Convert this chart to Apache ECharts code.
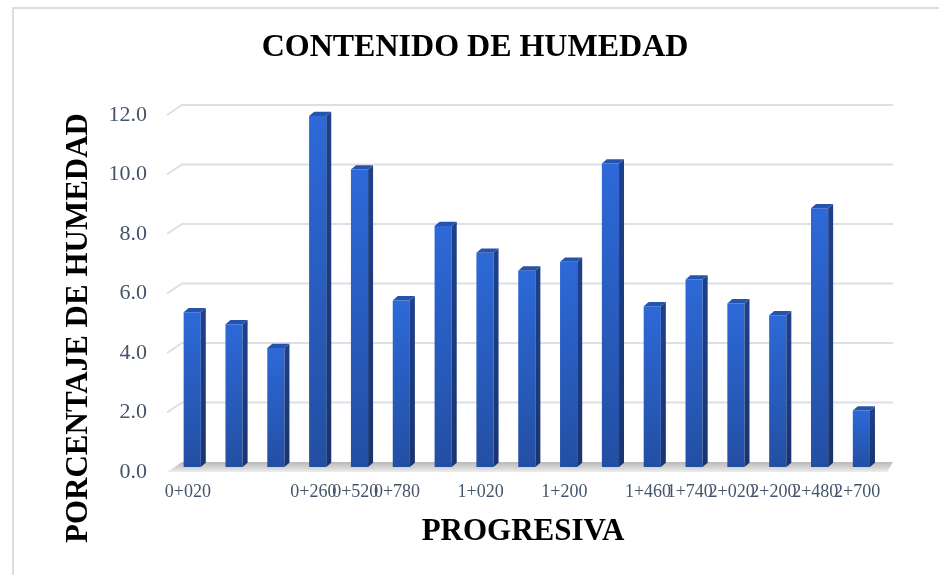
<!DOCTYPE html>
<html><head><meta charset="utf-8">
<script src="https://cdn.jsdelivr.net/npm/echarts@6/dist/echarts.min.js"></script>
<style>html,body{margin:0;padding:0;background:#fff}#c{width:939px;height:581px}</style>
</head><body><div id="c"></div>
<script>
const categories = ['0+020','','','0+260','0+520','0+780','','1+020','','1+200','','1+460','1+740','2+020','2+200','2+480','2+700'];
const humedad = [5.2,4.8,4.0,11.8,10.0,5.6,8.1,7.2,6.6,6.9,10.2,5.4,6.3,5.5,5.1,8.7,1.9];
const yTicks = [2,4,6,8,10,12];
const chartTitle = 'CONTENIDO DE HUMEDAD';
const yTitle = 'PORCENTAJE DE HUMEDAD';
const xTitle = 'PROGRESIVA';

const SERIF = '"Liberation Serif","Times New Roman",serif';
const DEPTH_X = 15, DEPTH_Y = 10;

const chart = echarts.init(document.getElementById('c'), null, {renderer: 'canvas'});
const option = {
  animation: false,
  backgroundColor: '#ffffff',
  grid: {left: 167, right: 61, top: 115, bottom: 109},
  xAxis: {
    type: 'category', data: categories,
    axisLine: {show: false}, axisTick: {show: false}, splitLine: {show: false},
    axisLabel: {interval: 0, margin: 11, color: '#44546A', fontFamily: SERIF, fontSize: 18, hideOverlap: false}
  },
  yAxis: {
    type: 'value', min: 0, max: 12, interval: 2,
    axisLine: {show: false}, axisTick: {show: false}, splitLine: {show: false},
    axisLabel: {margin: 20, color: '#44546A', fontFamily: SERIF, fontSize: 22, padding: [5,0,0,0],
      formatter: v => v.toFixed(1)}
  },
  graphic: [
    {type: 'polyline', silent: true, z: -10,
     shape: {points: [[13, 575], [13, 8], [945, 8]]},
     style: {stroke: '#d9dde5', lineWidth: 2, fill: null}},
    {type: 'text', x: 475, y: 48, style: {text: chartTitle, font: 'bold 32px ' + SERIF, fill: '#000', align: 'center', verticalAlign: 'middle'}},
    {type: 'text', x: 79, y: 328, rotation: Math.PI / 2, style: {text: yTitle, font: 'bold 31px ' + SERIF, fill: '#000', align: 'center', verticalAlign: 'middle'}},
    {type: 'text', x: 523, y: 532, style: {text: xTitle, font: 'bold 31px ' + SERIF, fill: '#000', align: 'center', verticalAlign: 'middle'}}
  ],
  series: [
    {
      type: 'custom', name: 'grid', z: 1, clip: false, silent: true,
      data: yTicks.map(v => [0, v]),
      renderItem: function (params, api) {
        const cs = params.coordSys;
        const y = api.coord([0, api.value(1)])[1];
        const x0 = cs.x, x1 = cs.x + cs.width;
        return {type: 'polyline', shape: {points: [[x0, y], [x0 + DEPTH_X, y - DEPTH_Y], [x1 + DEPTH_X, y - DEPTH_Y]]},
          style: {stroke: '#dcdfe6', lineWidth: 2, fill: null}};
      }
    },
    {
      type: 'custom', name: 'floor', z: 2, clip: false, silent: true,
      data: [[0, 0]],
      renderItem: function (params, api) {
        const cs = params.coordSys;
        const y = api.coord([0, 0])[1];
        const x0 = cs.x, x1 = cs.x + cs.width;
        return {type: 'polygon', shape: {points: [[x0, y], [x1 + 9, y], [x1 + DEPTH_X, y - DEPTH_Y], [x0 + DEPTH_X, y - DEPTH_Y]]},
          style: {fill: new echarts.graphic.LinearGradient(0, 0, 0, 1, [
            {offset: 0, color: '#b9b9b9'}, {offset: 0.6, color: '#d6d6d6'}, {offset: 1, color: '#eeeeee'}])}};
      }
    },
    {
      type: 'custom', name: 'Humedad', z: 3, clip: false,
      data: humedad.map((v, i) => [i, v]),
      encode: {x: 0, y: 1},
      renderItem: function (params, api) {
        const i = api.value(0), v = api.value(1);
        const base = api.coord([i, 0]);
        const top = api.coord([i, v]);
        const band = api.size([1, 0])[0];
        const w = band * 0.41;
        const cx = base[0] + 4.3;
        const L = cx - w / 2, R = cx + w / 2;
        const B = base[1] - 5, T = top[1] - 5;
        const dx = 5, dy = 4.3;
        return {type: 'group', children: [
          {type: 'rect', shape: {x: L, y: T, width: w, height: B - T},
           style: {fill: new echarts.graphic.LinearGradient(0, 0, 0, 1, [
             {offset: 0, color: '#2d69d8'}, {offset: 1, color: '#234fa3'}])}},
          {type: 'polygon', shape: {points: [[R, T], [R + dx, T - dy], [R + dx, B - dy], [R, B]]},
           style: {fill: new echarts.graphic.LinearGradient(0, 0, 0, 1, [
             {offset: 0, color: '#1f408a'}, {offset: 1, color: '#19346f'}])}},
          {type: 'polygon', shape: {points: [[L, T], [L + dx, T - dy], [R + dx, T - dy], [R, T]]},
           style: {fill: '#2654ad'}}
        ]};
      }
    }
  ]
};
chart.setOption(option);
</script>
</body></html>
